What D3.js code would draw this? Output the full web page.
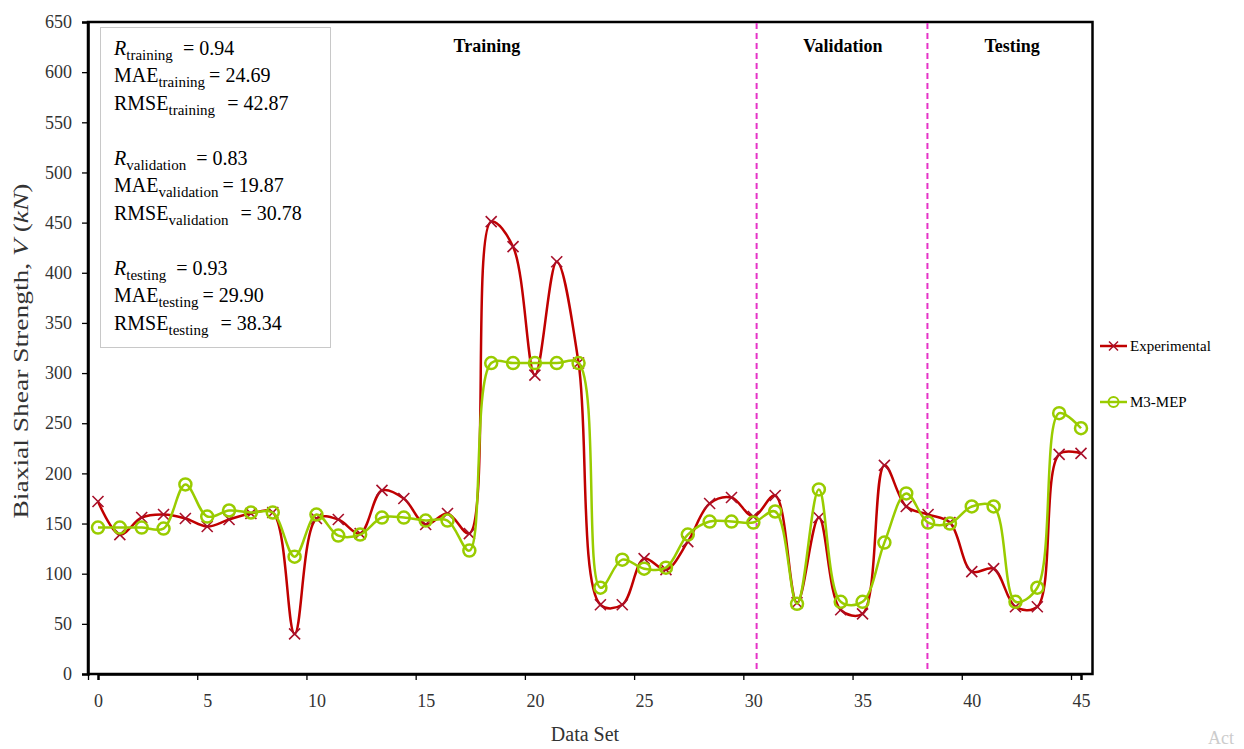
<!DOCTYPE html>
<html>
<head>
<meta charset="utf-8">
<script src="https://cdn.jsdelivr.net/npm/d3@7"></script>
<style>
  body { margin: 0; background: #fff; }
  svg { display: block; }
  text { font-family: "Liberation Serif", "Times New Roman", serif; }
</style>
</head>
<body>
<svg id="chart" width="1244" height="749"></svg>
<script>
// Data set index (0..45) and biaxial shear strength in kN
const dataSet = d3.range(46);
const experimental = [
  172, 139, 156, 159, 155, 147, 154, 160, 161, 40,
  155, 154, 140, 183, 175, 149, 160, 140, 451, 426,
  298, 411, 310, 69, 69, 115, 104, 132, 170, 176,
  157, 178, 71, 156, 64, 60, 208, 167, 159, 151,
  102, 105, 67, 67, 219, 220
];
const m3mep = [
  146, 146, 146, 145, 189, 157, 163, 161, 161, 117,
  159, 138, 139, 156, 156, 153, 153, 123, 310, 310,
  310, 310, 310, 86, 114, 105, 106, 139, 152, 152,
  151, 162, 70, 184, 72, 72, 131, 180, 151, 150,
  167, 167, 72, 86, 260, 245
];
const seriesNames = ["Experimental", "M3-MEP"];
const yTicks = d3.range(0, 651, 50);
const xTicks = d3.range(0, 46, 5);
const phaseNames = ["Training", "Validation", "Testing"];
const phaseBreaks = [30.15, 37.97];

const statsGroups = [
  [["R", true, "training", "= 0.94"], ["MAE", false, "training", "= 24.69"], ["RMSE", false, "training", "= 42.87"]],
  [["R", true, "validation", "= 0.83"], ["MAE", false, "validation", "= 19.87"], ["RMSE", false, "validation", "= 30.78"]],
  [["R", true, "testing", "= 0.93"], ["MAE", false, "testing", "= 29.90"], ["RMSE", false, "testing", "= 38.34"]]
];

const svg = d3.select("#chart");
const frame = { left: 88, right: 1092.5, top: 22, bottom: 674 };

const x = d3.scaleLinear().domain([0, 45]).range([98, 1081]);
const y = d3.scaleLinear().domain([0, 650]).range([frame.bottom, frame.top]);
const tickShift = -10;

const red = "#c00000";
const green = "#99cc00";

// Plot frame
svg.append("rect")
  .attr("x", frame.left).attr("y", frame.top)
  .attr("width", frame.right - frame.left).attr("height", frame.bottom - frame.top)
  .attr("fill", "#fff").attr("stroke", "#000").attr("stroke-width", 2.5);

// Y axis
const yAxis = svg.append("g")
  .attr("transform", `translate(${frame.left},0)`)
  .call(d3.axisLeft(y).tickValues(yTicks).tickSize(6).tickPadding(10));
yAxis.select(".domain").attr("stroke", "#000").attr("stroke-width", 2.5);
yAxis.selectAll(".tick line").attr("stroke", "#000").attr("stroke-width", 1.3);
yAxis.selectAll(".tick text")
  .attr("font-family", "Liberation Serif").attr("font-size", 18).attr("fill", "#333");

// X axis: labels sit under the data points, tick marks slightly to the left
const xAxis = svg.append("g")
  .attr("transform", `translate(0,${frame.bottom})`)
  .call(d3.axisBottom(x).tickValues(xTicks).tickSize(6).tickPadding(14));
xAxis.select(".domain").attr("stroke", "#000").attr("stroke-width", 2.5);
xAxis.selectAll(".tick line").attr("stroke", "#000").attr("stroke-width", 1.3)
  .attr("transform", `translate(${tickShift},0)`);
xAxis.selectAll(".tick text")
  .attr("font-family", "Liberation Serif").attr("font-size", 18).attr("fill", "#333");

// Axis titles
svg.append("text")
  .attr("x", 585).attr("y", 741)
  .attr("text-anchor", "middle").attr("font-size", 20).attr("fill", "#333")
  .text("Data Set");

const yTitle = svg.append("text")
  .attr("transform", "translate(28,351) rotate(-90)")
  .attr("text-anchor", "middle").attr("font-size", 21).attr("fill", "#333")
  .attr("textLength", 335).attr("lengthAdjust", "spacingAndGlyphs");
yTitle.append("tspan").text("Biaxial Shear Strength, ");
yTitle.append("tspan").attr("font-style", "italic").text("V");
yTitle.append("tspan").text(" (");
yTitle.append("tspan").attr("font-style", "italic").text("kN");
yTitle.append("tspan").text(")");

// Phase separators
svg.append("g").selectAll("line")
  .data(phaseBreaks)
  .join("line")
  .attr("x1", d => x(d)).attr("x2", d => x(d))
  .attr("y1", frame.top + 1).attr("y2", frame.bottom - 1)
  .attr("stroke", "#e633c8").attr("stroke-width", 2)
  .attr("stroke-dasharray", "6,4");

// Phase labels, centred in their spans
const phaseCentres = [17.8, 34.1, 41.85];
svg.append("g").selectAll("text")
  .data(phaseNames)
  .join("text")
  .attr("x", (d, i) => x(phaseCentres[i]))
  .attr("y", 52)
  .attr("text-anchor", "middle")
  .attr("font-size", 18).attr("font-weight", "bold").attr("fill", "#000")
  .text(d => d);

// Series lines
const line = d3.line()
  .x((d, i) => x(dataSet[i]))
  .y(d => y(d))
  .curve(d3.curveCatmullRom.alpha(0.5));

svg.append("path").datum(experimental)
  .attr("d", line).attr("fill", "none")
  .attr("stroke", red).attr("stroke-width", 2.5);

const xMarks = svg.append("g");
experimental.forEach((v, i) => {
  const cx = x(dataSet[i]), cy = y(v), s = 5.5;
  xMarks.append("path")
    .attr("d", `M${cx - s},${cy - s}L${cx + s},${cy + s}M${cx - s},${cy + s}L${cx + s},${cy - s}`)
    .attr("stroke", "#a8102a").attr("stroke-width", 1.6).attr("fill", "none");
});

svg.append("path").datum(m3mep)
  .attr("d", line).attr("fill", "none")
  .attr("stroke", green).attr("stroke-width", 2.5);

svg.append("g").selectAll("circle")
  .data(m3mep)
  .join("circle")
  .attr("cx", (d, i) => x(dataSet[i])).attr("cy", d => y(d))
  .attr("r", 6)
  .attr("fill", "none").attr("stroke", green).attr("stroke-width", 2.5);

// Statistics box
svg.append("rect")
  .attr("x", 100.5).attr("y", 27.5).attr("width", 230).attr("height", 320)
  .attr("fill", "#fff").attr("stroke", "#c8c8c8").attr("stroke-width", 1);

const statsG = svg.append("g").attr("fill", "#000");
const gapBefore = { R: 10, MAE: 4, RMSE: 12 };
statsGroups.forEach((group, gi) => {
  group.forEach((row, ri) => {
    const [name, italic, sub, val] = row;
    const t = statsG.append("text")
      .attr("x", 114)
      .attr("y", 55 + gi * 110 + ri * 27.3)
      .attr("font-size", 20);
    t.append("tspan").attr("font-style", italic ? "italic" : "normal").text(name);
    t.append("tspan").attr("font-size", 15).attr("dy", 5).text(sub);
    t.append("tspan").attr("dy", -5).attr("dx", gapBefore[name]).text(val);
  });
});

// Legend
const legend = svg.append("g").attr("transform", "translate(1100,0)");
const legendRows = [346, 402];
seriesNames.forEach((name, i) => {
  const ly = legendRows[i];
  const col = i === 0 ? red : green;
  legend.append("line")
    .attr("x1", 0).attr("x2", 27).attr("y1", ly).attr("y2", ly)
    .attr("stroke", col).attr("stroke-width", 2.5);
  if (i === 0) {
    const s = 4.5, cx = 13.5;
    legend.append("path")
      .attr("d", `M${cx - s},${ly - s}L${cx + s},${ly + s}M${cx - s},${ly + s}L${cx + s},${ly - s}`)
      .attr("stroke", "#a8102a").attr("stroke-width", 1.5);
  } else {
    legend.append("circle").attr("cx", 13.5).attr("cy", ly).attr("r", 5)
      .attr("fill", "none").attr("stroke", col).attr("stroke-width", 2);
  }
  legend.append("text")
    .attr("x", 30).attr("y", ly + 5)
    .attr("font-size", 15).attr("fill", "#000")
    .text(name);
});

// Faint watermark text at the lower right corner
svg.append("text")
  .attr("x", 1208).attr("y", 744)
  .attr("font-family", "Liberation Sans").attr("font-size", 18).attr("fill", "#cccccc")
  .text("Act");
</script>
</body>
</html>
